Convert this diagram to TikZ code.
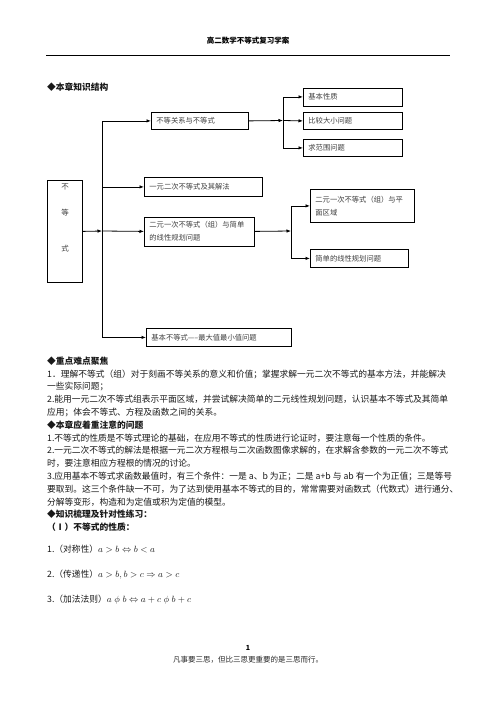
\documentclass[tikz,border=0pt]{standalone}
\usepackage{fontspec}
\setmainfont{Noto Sans CJK SC}
\usetikzlibrary{arrows.meta}
\begin{document}
\begin{tikzpicture}[x=1pt,y=-1pt,
  box/.style={draw, line width=0.8pt, inner xsep=5pt, inner ysep=0pt, align=left,
    font=\fontsize{7.3}{13}\selectfont, text=black!75, anchor=north west},
  conn/.style={line width=0.8pt},
  arr/.style={conn, -{Latex[length=4.5pt,width=3.5pt]}},
  body/.style={anchor=base west, inner sep=0pt, font=\fontsize{8.75}{13}\selectfont, text=black!90},
  head/.style={body, font=\fontsize{8.75}{13}\selectfont\bfseries},
  vchar/.style={inner sep=0pt, font=\fontsize{7.5}{9}\selectfont, text=black!75}
]
\useasboundingbox (0,0) rectangle (496,702);
\fill[white] (0,0) rectangle (496,702);

% page header
\node[inner sep=0pt, font=\fontsize{7.5}{9}\selectfont\bfseries] (title) at (248,41) {高二数学不等式复习学案};
\draw[line width=0.8pt] (46,55) -- (450,55);

\node[head] (h1) at (47,90.5) {◆本章知识结构};

% boxes
\node[box, text width=25pt, minimum height=102pt] (b0) at (47,180) {};
\node[vchar] (c1) at (65,187) {不};
\node[vchar] (c2) at (65,213) {等};
\node[vchar] (c3) at (65,249) {式};

\node[box, text width=87pt, minimum height=17pt] (b1) at (151,112) {不等关系与不等式};
\node[box, text width=89pt, minimum height=18pt] (b11) at (303,87.5) {基本性质};
\node[box, text width=89pt, minimum height=17pt] (b12) at (303,112) {比较大小问题};
\node[box, text width=89pt, minimum height=17pt] (b13) at (303,139) {求范围问题};
\node[box, text width=108pt, minimum height=19pt] (b2) at (144,177) {一元二次不等式及其解法};
\node[box, text width=100pt, minimum height=29pt] (b3) at (144,216.5) {二元一次不等式（组）与简单\\的线性规划问题};
\node[box, text width=94pt, minimum height=33pt] (b31) at (310,189) {二元一次不等式（组）与平\\面区域};
\node[box, text width=88pt, minimum height=18pt] (b32) at (310,249) {简单的线性规划问题};
\node[box, text width=135pt, minimum height=18pt] (b4) at (146,328) {基本不等式-----最大值最小值问题};

% connectors
\coordinate (tA) at (102,231);
\coordinate (tB) at (283,120.5);
\coordinate (tC) at (291,231);
\draw[arr] (b0.east) -- (tA);
\draw[arr] (tA) |- (b1.west);
\draw[arr] (tA) |- (b2.west);
\draw[arr] (tA) -- (b3.west);
\draw[arr] (tA) |- (b4.west);
\draw[arr] (b1.east) -- (tB);
\draw[arr] (tB) |- (b11.west);
\draw[arr] (tB) -- (b12.west);
\draw[arr] (tB) |- (b13.west);
\draw[arr] (b3.east) -- (tC);
\draw[arr] (tC) |- (b31.west);
\draw[arr] (tC) |- (b32.west);

% body text
\node[head] (p0) at (47,364.3) {◆重点难点聚焦};
\node[body] (p1) at (47,377.1) {1．理解不等式（组）对于刻画不等关系的意义和价值；掌握求解一元二次不等式的基本方法，并能解决};
\node[body] (p2) at (47,389.9) {一些实际问题；};
\node[body] (p3) at (47,402.7) {2.能用一元二次不等式组表示平面区域，并尝试解决简单的二元线性规划问题，认识基本不等式及其简单};
\node[body] (p4) at (47,415.5) {应用；体会不等式、方程及函数之间的关系。};
\node[head] (p5) at (47,428.3) {◆本章应着重注意的问题};
\node[body] (p6) at (47,441.1) {1.不等式的性质是不等式理论的基础，在应用不等式的性质进行论证时，要注意每一个性质的条件。};
\node[body] (p7) at (47,453.9) {2.一元二次不等式的解法是根据一元二次方程根与二次函数图像求解的，在求解含参数的一元二次不等式};
\node[body] (p8) at (47,466.7) {时，要注意相应方程根的情况的讨论。};
\node[body] (p9) at (47,479.5) {3.应用基本不等式求函数最值时，有三个条件：一是 a、b 为正；二是 a+b 与 ab 有一个为正值；三是等号};
\node[body] (p10) at (47,492.3) {要取到。这三个条件缺一不可，为了达到使用基本不等式的目的，常常需要对函数式（代数式）进行通分、};
\node[body] (p11) at (47,505.1) {分解等变形，构造和为定值或积为定值的模型。};
\node[head] (p12) at (47,517.9) {◆知识梳理及针对性练习：};
\node[head] (p13) at (47,530.7) {（Ⅰ）不等式的性质：};

\node[body] (f1) at (47,552.3) {1.（对称性）$a>b\Leftrightarrow b<a$};
\node[body] (f2) at (47,577.3) {2.（传递性）$a>b,b>c\Rightarrow a>c$};
\node[body] (f3) at (47,602.3) {3.（加法法则）$a\mathrel{\phi} b\Leftrightarrow a+c\mathrel{\phi} b+c$};

% footer
\node[inner sep=0pt, font=\fontsize{7}{8}\selectfont\bfseries] (pg) at (248,648) {1};
\node[inner sep=0pt, font=\fontsize{7.5}{9}\selectfont, text=black!85] (ft) at (248,660) {凡事要三思，但比三思更重要的是三思而行。};
\end{tikzpicture}
\end{document}
